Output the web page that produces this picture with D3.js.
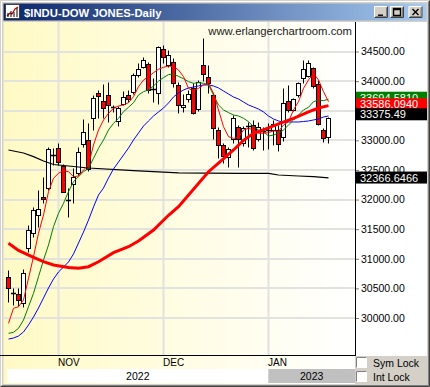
<!DOCTYPE html>
<html><head><meta charset="utf-8">
<script src="https://cdn.jsdelivr.net/npm/d3@7"></script>
<style>html,body{margin:0;padding:0;background:#d4d0c8;overflow:hidden}svg{display:block}</style>
</head><body><svg id="c" width="430" height="387"></svg>
<script>
// ---------------- DATA ----------------
const dates = ["2022-10-18","2022-10-19","2022-10-20","2022-10-21","2022-10-24","2022-10-25","2022-10-26","2022-10-27","2022-10-28","2022-10-31",
"2022-11-01","2022-11-02","2022-11-03","2022-11-04","2022-11-07","2022-11-08","2022-11-09","2022-11-10","2022-11-11","2022-11-14","2022-11-15","2022-11-16","2022-11-17","2022-11-18","2022-11-21","2022-11-22","2022-11-23","2022-11-25","2022-11-28","2022-11-29","2022-11-30",
"2022-12-01","2022-12-02","2022-12-05","2022-12-06","2022-12-07","2022-12-08","2022-12-09","2022-12-12","2022-12-13","2022-12-14","2022-12-15","2022-12-16","2022-12-19","2022-12-20","2022-12-21","2022-12-22","2022-12-23","2022-12-27","2022-12-28","2022-12-29","2022-12-30",
"2023-01-03","2023-01-04","2023-01-05","2023-01-06","2023-01-09","2023-01-10","2023-01-11","2023-01-12","2023-01-13","2023-01-17","2023-01-18","2023-01-19","2023-01-20"];
const opens  = [30697,30420,30405,30258,31177,31441,31740,32048,32190,32760,
32865,32567,31990,32257,32443,32938,33006,33372,33805,33664,33765,33565,33327,33614,33760,33822,34103,34232,34283,33865,33794,
34537,34272,34328,33935,33560,33693,33878,33524,34272,34075,33770,33175,32921,32727,33018,33231,32950,33240,33259,33018,33150,
33175,33175,33175,33051,33664,33513,33766,34058,34087,34216,33952,33175,33061];
const highs  = [30810,30500,30500,30825,31570,31880,32160,32385,32880,32865,
32960,32600,32190,32530,32893,33360,33290,33760,33855,33950,33980,33600,33580,33840,33850,34130,34300,34415,34330,34050,34600,
34610,34526,34390,33991,33780,33850,33963,34020,34720,34272,33800,33230,32960,32880,33428,33260,33240,33310,33343,33310,33230,
33290,33343,33259,33878,33935,33720,33990,34350,34360,34235,34020,33203,33390];
const lows   = [30275,30220,30200,30190,31120,31373,31540,31937,32161,32584,
32584,32120,31710,31937,32415,32893,32480,33170,33370,33370,33310,33484,33240,33600,33640,33780,34070,34220,33800,33650,33620,
34300,34244,33900,33456,33480,33640,33445,33500,34000,33794,33018,32700,32612,32555,32950,32555,32900,32893,32837,32990,32840,
32860,32921,32820,32990,33470,33490,33740,33960,34070,33880,33260,32980,32950];
const closes = [30502,30400,30300,30755,31486,31824,31835,32014,32848,32745,
32640,32133,31975,32385,32810,33146,32511,33710,33750,33541,33597,33550,33541,33738,33693,34103,34199,34357,33850,33855,34582,
34402,34441,33963,33597,33600,33783,33466,33991,34115,33963,33208,32921,32736,32853,33372,33018,33203,33225,32866,33231,33140,
33165,33270,32938,33625,33513,33698,33974,34200,34300,33917,33276,33034,33375];

// thin red moving average (one value per session)
const maRed = [29910,30164,30190,30304,30670,31035,31430,31740,32133,32360,
32443,32488,32470,32386,32398,32500,32584,32921,33175,33343,33456,33541,33580,33597,33636,33737,33906,34019,34075,34143,34200,
34233,34255,34244,34188,34075,33878,33833,33878,33935,33963,33794,33513,33231,33062,33034,33051,33175,33203,33175,33119,33120,
33130,33160,33150,33259,33315,33513,33653,33878,34019,34131,34019,33822,33653];
// green moving average
const maGreen = [29741,29758,29826,29966,30190,30417,30697,30979,31233,31542,
31768,31937,32133,32302,32386,32470,32527,32697,32866,33006,33175,33287,33372,33484,33558,33636,33766,33822,33850,33917,34000,
34060,34110,34120,34080,34040,33991,33963,33974,33963,33935,33766,33597,33513,33468,33428,33411,33372,33315,33231,33175,33146,
33073,33090,33119,33175,33259,33343,33428,33513,33558,33653,33681,33670,33694.58];
// blue moving average
const maBlue = [29645,29662,29696,29764,29882,30017,30169,30338,30507,30659,
30777,30861,30946,31081,31266,31452,31655,31875,32077,32195,32364,32516,32634,32752,32871,33006,33124,33242,33327,33411,33479,
33546,33631,33732,33800,33850,33884,33900,33918,33935,33935,33918,33884,33833,33782,33732,33698,33647,33597,33563,33529,33479,
33411,33360,33327,33310,33310,33310,33310,33318,33327,33344,33360,33394,33411];
// thick red long moving average: [session index, value]
const maThick = [[0,31261],[2,31140],[5,31025],[7,30951],[9,30895],[12,30853],[14,30840],[16,30866],[18,30950],[21,31103],
[24,31204],[26,31300],[29,31486],[32,31735],[34,31880],[37,32173],[40,32470],[42,32615],[45,32837],[47,33000],[49,33119],
[52,33210],[54,33278],[57,33372],[60,33480],[62,33545],[64,33586.09]];
// black long moving average: [session index, value]
const maBlack = [[0,32837],[3,32786],[5,32724],[7,32651],[9,32592],[12,32567],[16,32533],[25,32490],[34,32449],[46,32443],
[52,32443],[54,32415],[58,32398],[61,32386],[64,32366.65]];

const priceTicks = [30000,30500,31000,31500,32000,32500,33000,33500,34000,34500];
const monthNames = ["JAN","FEB","MAR","APR","MAY","JUN","JUL","AUG","SEP","OCT","NOV","DEC"];
const labelValues = [33694.5810, 33586.0940, 33375.49, 32366.6466];
const labelTexts  = ["33694.5810","33586.0940","33375.49","32366.6466"];
const labelColors = ["#008000","#ff0000","#000000","#000000"];
const labelShift  = [-7.5, -7.3, -9.8, -6.3];

// ---------------- LAYOUT ----------------
const W = 430, H = 387;
const plotL = 3.5, plotR = 355, plotT = 22, plotB = 355;
const svg = d3.select("#c");
const FONT = "'Liberation Sans', Arial, sans-serif";

const x = d3.scaleLinear().domain([0, dates.length - 1]).range([8.5, 328.5]);
const y = d3.scaleLinear().domain([30000, 34500]).range([318, 51.5]);
const cy = v => Math.round(y(v)) + 0.5;

const defs = svg.append("defs");
const tg = defs.append("linearGradient").attr("id","tbar").attr("x1","0").attr("x2","1");
tg.append("stop").attr("offset","0").attr("stop-color","#0a246a");
tg.append("stop").attr("offset","1").attr("stop-color","#a6caf0");
const pg = defs.append("linearGradient").attr("id","pbg").attr("gradientUnits","userSpaceOnUse")
  .attr("x1",plotL).attr("x2",plotR).attr("y1",0).attr("y2",0);
pg.append("stop").attr("offset","0").attr("stop-color","#fffac4");
pg.append("stop").attr("offset","0.55").attr("stop-color","#fffde6");
pg.append("stop").attr("offset","1").attr("stop-color","#ffffff");
defs.append("clipPath").attr("id","pclip").append("rect")
  .attr("x",plotL).attr("y",plotT).attr("width",plotR-plotL).attr("height",plotB-plotT);

// window frame
svg.append("rect").attr("width",W).attr("height",H).attr("fill","#d4d0c8");
svg.append("path").attr("d",`M0.5,${H-0.5}V0.5H${W-0.5}`).attr("stroke","#d4d0c8").attr("fill","none");
svg.append("path").attr("d",`M1.5,${H-1.5}V1.5H${W-1.5}`).attr("stroke","#ffffff").attr("fill","none");
svg.append("path").attr("d",`M0.5,${H-0.5}H${W-0.5}V0.5`).attr("stroke","#404040").attr("fill","none");
svg.append("path").attr("d",`M1.5,${H-1.5}H${W-1.5}V1.5`).attr("stroke","#808080").attr("fill","none");

// title bar
svg.append("rect").attr("x",3.5).attr("y",3.5).attr("width",423).attr("height",17).attr("fill","url(#tbar)");
const ic = svg.append("g").attr("transform","translate(5,4)");
ic.append("rect").attr("x",0.5).attr("y",0.5).attr("width",14).attr("height",14).attr("fill","#ffffff").attr("stroke","#404040");
ic.append("path").attr("d","M2,12 L5,9 L7,10 L10,5 L13,3").attr("stroke","#cc0000").attr("fill","none").attr("stroke-width",1.3);
ic.append("path").attr("d","M3,13V9 M6,13V7 M9,13V8 M12,13V4").attr("stroke","#000").attr("fill","none");
svg.append("text").attr("x",24).attr("y",16.5).attr("fill","#fff").attr("font-family",FONT)
  .attr("font-weight","bold").attr("font-size","11.3px").text("$INDU-DOW JONES-Daily");
function winBtn(bx, glyph){
  const g = svg.append("g").attr("transform",`translate(${bx},6)`);
  g.append("rect").attr("x",0).attr("y",0).attr("width",14).attr("height",12).attr("fill","#d4d0c8");
  g.append("path").attr("d","M0.5,11.5V0.5H13.5").attr("stroke","#ffffff").attr("fill","none");
  g.append("path").attr("d","M0.5,11.5H13.5V0.5").attr("stroke","#404040").attr("fill","none");
  g.append("path").attr("d","M1.5,10.5H12.5V1.5").attr("stroke","#808080").attr("fill","none");
  g.append("path").attr("d",glyph).attr("stroke","#000").attr("fill","none").attr("stroke-width",1.4);
}
winBtn(374, "M4,9.2H9");
winBtn(390, "M3.5,2.5H10.5V9.5H3.5Z M3.5,3.5H10.5");
winBtn(408.5, "M4,3L10,9M10,3L4,9");

// plot background
svg.append("rect").attr("x",plotL).attr("y",plotT).attr("width",plotR-plotL).attr("height",H-3-plotT).attr("fill","url(#pbg)");
// right axis background
svg.append("rect").attr("x",356).attr("y",plotT).attr("width",71).attr("height",plotB-plotT+1).attr("fill","#ffffff");

const plot = svg.append("g").attr("clip-path","url(#pclip)");

// month boundaries from dates
const monthStarts = [];
dates.forEach((d,i)=>{ if(i>0 && d.slice(0,7)!==dates[i-1].slice(0,7)) monthStarts.push(i); });
const yearStarts = [0];
dates.forEach((d,i)=>{ if(i>0 && d.slice(0,4)!==dates[i-1].slice(0,4)) yearStarts.push(i); });

// gridlines
plot.selectAll("line.hg").data(priceTicks).join("line").attr("class","hg")
  .attr("x1",plotL).attr("x2",plotR).attr("y1",d=>Math.round(y(d))).attr("y2",d=>Math.round(y(d)))
  .attr("stroke","#e2e2de").attr("stroke-width",2);
plot.selectAll("line.vg").data(monthStarts).join("line").attr("class","vg")
  .attr("x1",d=>x(d)).attr("x2",d=>x(d)).attr("y1",plotT).attr("y2",plotB)
  .attr("stroke","#e2e2de").attr("stroke-width",2);

// watermark
svg.append("text").attr("x",352).attr("y",34.5).attr("text-anchor","end").attr("font-family",FONT)
  .attr("font-size","11.3px").attr("fill","#202020").text("www.erlangerchartroom.com");

// candles
const cg = plot.append("g");
dates.forEach((d,i)=>{
  const cx = x(i);
  cg.append("line").attr("x1",cx).attr("x2",cx).attr("y1",cy(highs[i])).attr("y2",cy(lows[i]))
    .attr("stroke","#000").attr("stroke-width",1);
  const top = Math.min(cy(opens[i]),cy(closes[i])), bot = Math.max(cy(opens[i]),cy(closes[i]));
  if (bot - top < 1.5) {
    cg.append("line").attr("x1",cx-2.5).attr("x2",cx+2.5).attr("y1",top).attr("y2",top)
      .attr("stroke","#000").attr("stroke-width",1.5);
  } else {
    cg.append("rect").attr("x",cx-2).attr("y",top).attr("width",4).attr("height",bot-top)
      .attr("fill", closes[i] < opens[i] ? "#ff0000" : "#ffffff").attr("stroke","#000").attr("stroke-width",1);
  }
});

// moving averages
const lineFull = d3.line().x((d,i)=>x(i)).y(d=>y(d));
const linePts = d3.line().x(d=>x(d[0])).y(d=>y(d[1]));
plot.append("path").attr("d",linePts(maBlack)).attr("fill","none").attr("stroke","#000").attr("stroke-width",1.2);
plot.append("path").attr("d",lineFull(maBlue)).attr("fill","none").attr("stroke","#0000ff").attr("stroke-width",1);
plot.append("path").attr("d",lineFull(maGreen)).attr("fill","none").attr("stroke","#008000").attr("stroke-width",1);
plot.append("path").attr("d",lineFull(maRed)).attr("fill","none").attr("stroke","#ff0000").attr("stroke-width",1);
plot.append("path").attr("d",linePts(maThick)).attr("fill","none").attr("stroke","#ff0000").attr("stroke-width",3);

// borders of plot
svg.append("line").attr("x1",0).attr("x2",356).attr("y1",plotB+0.5).attr("y2",plotB+0.5).attr("stroke","#000");
svg.append("line").attr("x1",355.5).attr("x2",355.5).attr("y1",plotT).attr("y2",plotB+1).attr("stroke","#000");

// right price axis
const axis = d3.axisRight(y).tickValues(priceTicks).tickFormat(d3.format(".2f")).tickSize(3).tickPadding(2);
const ag = svg.append("g").attr("transform","translate(356,0)").call(axis);
ag.select(".domain").remove();
ag.selectAll(".tick line").attr("stroke","#808080");
ag.selectAll(".tick text").attr("font-family",FONT).attr("font-size","10.5px").attr("fill","#000");

// value boxes
labelValues.forEach((v,i)=>{
  const t = y(v) + labelShift[i];
  svg.append("rect").attr("x",356).attr("y",t).attr("width",71).attr("height",12).attr("fill",labelColors[i]);
  svg.append("text").attr("x",360).attr("y",t+10).attr("font-family",FONT).attr("font-size","11px")
    .attr("fill","#ffffff").text(labelTexts[i]);
});

// bottom time axis: year row
const yearEnds = yearStarts.slice(1).map(s=>x(s)-0.2).concat([355]);
yearStarts.forEach((s,k)=>{
  const x0 = k===0 ? x(s)-1.2 : x(s)-0.2, x1 = yearEnds[k];
  svg.append("rect").attr("x",x0).attr("y",369).attr("width",x1-x0).attr("height",14)
    .attr("fill", k===0 ? "#ffffff" : "#c0c0c0");
  svg.append("text").attr("x",(x0+x1)/2).attr("y",380).attr("text-anchor","middle").attr("font-family",FONT)
    .attr("font-size","10.5px").attr("fill","#000").text(dates[s].slice(0,4));
});
// month labels
monthStarts.forEach(s=>{
  svg.append("text").attr("x",x(s)-0.5).attr("y",366).attr("font-family",FONT).attr("font-size","10px")
    .attr("fill","#000").text(monthNames[+dates[s].slice(5,7)-1]);
});

// bottom-right control area
svg.append("rect").attr("x",356).attr("y",plotB+1).attr("width",71).attr("height",28).attr("fill","#d4d0c8");
function checkbox(cyy, label){
  svg.append("rect").attr("x",356).attr("y",cyy).attr("width",11).attr("height",11).attr("fill","#fff");
  svg.append("path").attr("d",`M356.5,${cyy+11}V${cyy+0.5}H367`).attr("stroke","#808080").attr("fill","none");
  svg.append("path").attr("d",`M356.5,${cyy+10.5}H366.5V${cyy+0.5}`).attr("stroke","#ffffff").attr("fill","none");
  svg.append("text").attr("x",373).attr("y",cyy+9.5).attr("font-family",FONT).attr("font-size","10.5px")
    .attr("fill","#000").text(label);
}
checkbox(357, "Sym Lock");
checkbox(371, "Int Lock");
</script>
</body></html>
